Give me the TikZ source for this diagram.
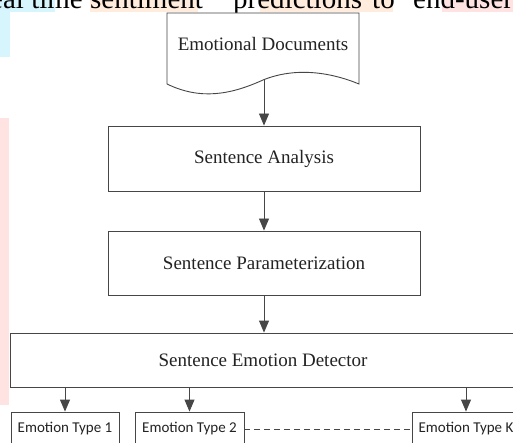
\documentclass[tikz,border=0pt]{standalone}
\usepackage{fontspec}
\setmainfont{Liberation Serif}
\newfontfamily\calfont{Carlito}
\usetikzlibrary{arrows.meta}
\definecolor{linec}{RGB}{70,70,70}
\definecolor{textc}{RGB}{35,35,35}
\definecolor{hlcyan}{RGB}{215,245,252}
\definecolor{hlpeach}{RGB}{255,236,220}
\definecolor{hlpink}{RGB}{255,226,226}
\begin{document}
\begin{tikzpicture}[x=1pt,y=-1pt,
  box/.style={draw=linec, line width=0.9pt, rectangle, inner sep=0pt, font=\fontsize{19}{22}\selectfont, text=textc},
  ebox/.style={draw=linec, line width=0.9pt, rectangle, inner sep=0pt, font=\calfont\fontsize{15}{18}\selectfont, text=textc},
  arr/.style={draw=linec, line width=0.9pt, -{Triangle[length=12pt,width=10pt]}},
  dashline/.style={draw=linec, line width=0.9pt, dash pattern=on 6pt off 4pt},
  topword/.style={anchor=base west, inner sep=0pt, font=\fontsize{29}{32}\selectfont, text=black},
]
\useasboundingbox (0,0) rectangle (513,443);
\clip (0,0) rectangle (513,443);
\fill[white] (0,0) rectangle (513,443);
% background artefacts
\fill[hlcyan] (0,-5) rectangle (55,12);
\fill[hlcyan] (0,12) rectangle (10,57);
\fill[hlpeach] (90,-5) rectangle (198,12);
\fill[hlpeach] (260,-5) rectangle (393,12);
\fill[hlpink] (442,-5) rectangle (513,12);
\fill[hlpink] (0,118) rectangle (9,405);
\node[topword, anchor=base east] (w1) at (83,9) {real time};
\node[topword] (w2) at (90,9) {sentiment};
\node[topword] (w3) at (233,9) {predictions};
\node[topword] (w4) at (372,9) {to};
\node[topword] (w5) at (413,9) {end-users};

% document shape
\draw[linec, line width=0.9pt, fill=white] (167,13) -- (359,13) -- (359,84)
  .. controls (330,72) and (295,67) .. (263,80)
  .. controls (230,95) and (200,100) .. (167,84) -- cycle;
\node[font=\fontsize{19}{22}\selectfont, text=textc, inner sep=0pt] (doc) at (263,44) {Emotional Documents};
\coordinate (docbot) at (264,80);

\node[box, minimum width=312pt, minimum height=65pt] (sa) at (264,158.5) {Sentence Analysis};
\node[box, minimum width=312pt, minimum height=64pt] (sp) at (264,263) {Sentence Parameterization};
\node[box, minimum width=506pt, minimum height=54pt] (sed) at (263,360) {Sentence Emotion Detector};

\node[ebox, minimum width=108pt, minimum height=34pt] (e1) at (65,429) {Emotion Type 1};
\node[ebox, minimum width=109pt, minimum height=34pt] (e2) at (189.5,429) {Emotion Type 2};
\node[ebox, minimum width=108pt, minimum height=34pt] (ek) at (466,429) {Emotion Type K};

\draw[arr] (docbot) -- (sa.north);
\draw[arr] (sa.south) -- (sp.north);
\draw[arr] (sp.south) -- (sp.south |- sed.north);
\draw[arr] (e1.north |- sed.south) -- (e1.north);
\draw[arr] (e2.north |- sed.south) -- (e2.north);
\draw[arr] (ek.north |- sed.south) -- (ek.north);
\draw[dashline] (e2.east) -- (ek.west);
\end{tikzpicture}
\end{document}
